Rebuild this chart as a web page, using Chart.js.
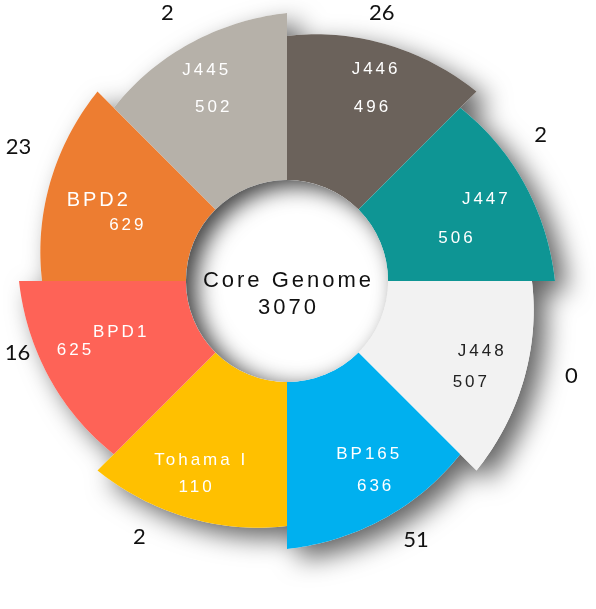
<!DOCTYPE html>
<html>
<head>
<meta charset="utf-8">
<script src="https://cdn.jsdelivr.net/npm/chart.js@4/dist/chart.umd.min.js"></script>
<style>
  body { margin: 0; background: #fff; }
  canvas { display: block; }
</style>
</head>
<body>
<canvas id="flowerChart" width="596" height="609"></canvas>
<script>
// Strains, clockwise from 12 o'clock
const strains = ['J446', 'J447', 'J448', 'BP165', 'Tohama I', 'BPD1', 'BPD2', 'J445'];
const petalGenes = [496, 506, 507, 636, 110, 625, 629, 502];
const uniqueGenes = [26, 2, 0, 51, 2, 16, 23, 2];
const coreLabel = 'Core Genome';
const coreGenes = 3070;

const petalColors = [
  '#6b625b', // J446 - taupe
  '#0e9594', // J447 - teal
  '#f2f2f2', // J448 - light grey
  '#00b0ef', // BP165 - blue
  '#ffc000', // Tohama I - yellow
  '#fe6357', // BPD1 - salmon
  '#ed7d31', // BPD2 - orange
  '#b6b1a9'  // J445 - stone
];
const labelColors = ['#fff', '#fff', '#222', '#fff', '#fff', '#fff', '#fff', '#fff'];

const START_RATIO = 0.914; // petal outer edge grows clockwise to full radius

// label placement: [angle offset from petal middle in degrees, radius as fraction of outer]
const namePos = [[0, .854], [0, .799], [-2.5, .769], [-2.5, .713], [3.5, .743], [5.5, .653], [0.5, .769], [1.3, .843]];
const valuePos = [[3.3, .72], [8.2, .649], [6.5, .78], [-0.5, .832], [1.5, .843], [4.5, .836], [-3.5, .634], [-0.8, .705]];
const outerPos = [[-3, 1.06], [-7.5, 1.093], [-4, 1.119], [-4, 1.078], [7.5, 1.101], [7.5, 1.041], [4, 1.119], [-1.5, 1.097]];
const nameSize = [17, 17, 17, 17, 17, 17, 20, 17];

function petalPath(ctx, arc) {
  const {x, y, startAngle, endAngle, innerRadius, outerRadius} = arc;
  const r0 = outerRadius * START_RATIO;
  const steps = 40;
  ctx.moveTo(x + innerRadius * Math.cos(startAngle), y + innerRadius * Math.sin(startAngle));
  for (let s = 0; s <= steps; s++) {
    const t = s / steps;
    const a = startAngle + (endAngle - startAngle) * t;
    const r = r0 + (outerRadius - r0) * t;
    ctx.lineTo(x + r * Math.cos(a), y + r * Math.sin(a));
  }
  ctx.lineTo(x + innerRadius * Math.cos(endAngle), y + innerRadius * Math.sin(endAngle));
  ctx.arc(x, y, innerRadius, endAngle, startAngle, true);
  ctx.closePath();
}

function polar(arc, pos, outerRadius) {
  const mid = (arc.startAngle + arc.endAngle) / 2 + pos[0] * Math.PI / 180;
  const r = outerRadius * pos[1];
  return [arc.x + r * Math.cos(mid), arc.y + r * Math.sin(mid)];
}

const flowerPlugin = {
  id: 'flower',
  beforeDatasetDraw(chart, args) {
    const {ctx} = chart;
    const meta = chart.getDatasetMeta(args.index);
    const arcs = meta.data;
    const {x, y, innerRadius, outerRadius} = arcs[0];

    // one drop shadow for the whole ring
    ctx.save();
    ctx.beginPath();
    arcs.forEach(arc => petalPath(ctx, arc));
    ctx.shadowColor = 'rgba(0, 0, 0, 0.62)';
    ctx.shadowBlur = 26;
    ctx.shadowOffsetX = 12;
    ctx.shadowOffsetY = 10;
    ctx.fillStyle = '#fff';
    ctx.fill();
    ctx.restore();

    arcs.forEach((arc, i) => {
      ctx.save();
      ctx.beginPath();
      petalPath(ctx, arc);
      ctx.fillStyle = petalColors[i];
      ctx.fill();
      ctx.restore();
    });

    // inset shadow inside the hole
    ctx.save();
    ctx.beginPath();
    ctx.arc(x, y, innerRadius, 0, Math.PI * 2);
    ctx.clip();
    ctx.fillStyle = '#fff';
    ctx.fill();
    ctx.beginPath();
    ctx.arc(x, y, innerRadius + 60, 0, Math.PI * 2);
    ctx.arc(x, y, innerRadius, 0, Math.PI * 2, true);
    ctx.shadowColor = 'rgba(0, 0, 0, 0.75)';
    ctx.shadowBlur = 22;
    ctx.shadowOffsetX = 10;
    ctx.shadowOffsetY = 6;
    ctx.fill();
    ctx.restore();

    ctx.save();
    ctx.textAlign = 'center';
    ctx.textBaseline = 'middle';

    arcs.forEach((arc, i) => {
      const [nx, ny] = polar(arc, namePos[i], outerRadius);
      const [vx, vy] = polar(arc, valuePos[i], outerRadius);
      ctx.fillStyle = labelColors[i];
      ctx.font = nameSize[i] + 'px "Liberation Sans", Arial, sans-serif';
      ctx.letterSpacing = '3px';
      ctx.fillText(strains[i], nx + 1.5, ny);
      ctx.font = '17px "Liberation Sans", Arial, sans-serif';
      ctx.fillText(String(petalGenes[i]), vx + 1.5, vy);

      const [ox, oy] = polar(arc, outerPos[i], outerRadius);
      ctx.fillStyle = '#111';
      ctx.font = '22px Lato, "Liberation Sans", sans-serif';
      ctx.letterSpacing = '0px';
      ctx.fillText(String(uniqueGenes[i]), ox, oy);
    });

    ctx.fillStyle = '#111';
    ctx.font = '22px "Liberation Sans", Arial, sans-serif';
    ctx.letterSpacing = '3px';
    ctx.fillText(coreLabel, x + 1.5, y);
    ctx.fillText(String(coreGenes), x + 1.5, y + 27);
    ctx.restore();

    return false; // skip default draw
  }
};

const chart = new Chart(document.getElementById('flowerChart'), {
  type: 'doughnut',
  data: {
    labels: strains,
    datasets: [{
      data: strains.map(() => 1),
      backgroundColor: petalColors,
      borderWidth: 0
    }]
  },
  options: {
    responsive: false,
    animation: false,
    cutout: '37.7%',
    layout: { padding: { left: 19, right: 41, top: 13, bottom: 60 } },
    plugins: {
      legend: { display: false },
      tooltip: { enabled: false }
    }
  },
  plugins: [flowerPlugin]
});
</script>
</body>
</html>
